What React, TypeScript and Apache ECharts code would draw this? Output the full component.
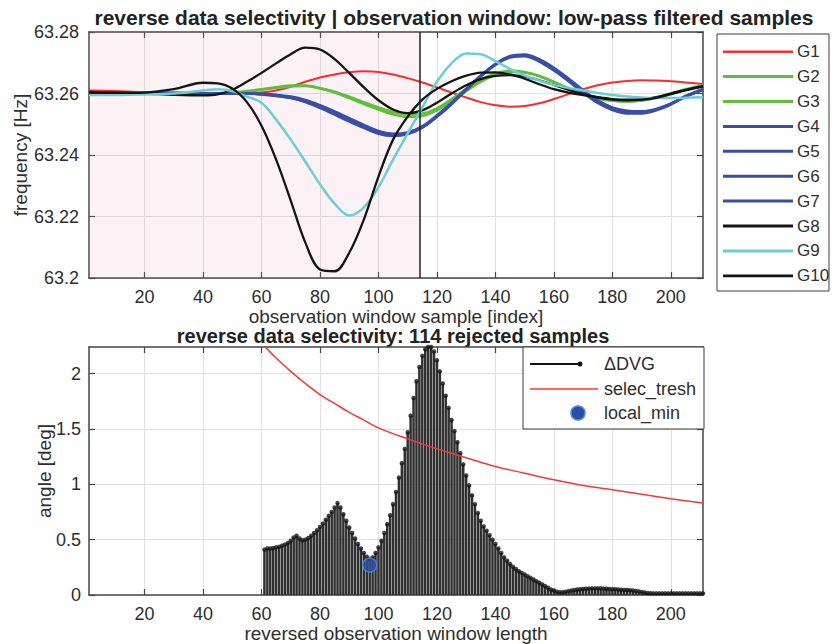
import React, { useEffect, useRef } from "react";
import * as echarts from "echarts";

const FONT = '"Liberation Sans", Arial, Helvetica, sans-serif';
const TXT = "#2e2e2e";
const AXIS = "#454545";
const GRIDC = "#e0e0e0";

// ---------- top panel data ----------
const sampleIdx = [1, 10, 20, 30, 40, 45, 50, 55, 60, 65, 70, 75, 80, 85, 90, 95, 100, 105, 110, 115, 120, 125, 130, 135, 140, 145, 150, 155, 160, 165, 170, 175, 180, 185, 190, 195, 200, 205, 211];

const G1 = [63.261, 63.2608, 63.2605, 63.2604, 63.2602, 63.26, 63.26, 63.26, 63.2603, 63.261, 63.2622, 63.2638, 63.2652, 63.2662, 63.2669, 63.2672, 63.267, 63.2662, 63.265, 63.2636, 63.262, 63.2603, 63.2587, 63.2572, 63.2562, 63.2557, 63.2559, 63.2568, 63.2582, 63.2598, 63.2614, 63.2627, 63.2636, 63.2641, 63.2643, 63.2642, 63.264, 63.2636, 63.2631];
const G2 = [63.26, 63.26, 63.26, 63.26, 63.26, 63.2601, 63.2603, 63.2608, 63.2614, 63.262, 63.2626, 63.2626, 63.2618, 63.2606, 63.259, 63.2572, 63.2555, 63.254, 63.2532, 63.2535, 63.2552, 63.2582, 63.2615, 63.2645, 63.2665, 63.2674, 63.267, 63.2657, 63.2638, 63.2618, 63.26, 63.2586, 63.2577, 63.2574, 63.2577, 63.2585, 63.2598, 63.2612, 63.2625];
const G3 = [63.26, 63.26, 63.26, 63.26, 63.26, 63.26, 63.2602, 63.2606, 63.2612, 63.2618, 63.2623, 63.2624, 63.2616, 63.2603, 63.2585, 63.2566, 63.2548, 63.2532, 63.2524, 63.2527, 63.2545, 63.2575, 63.2608, 63.2638, 63.266, 63.267, 63.2668, 63.2656, 63.2637, 63.2616, 63.2598, 63.2584, 63.2576, 63.2574, 63.2578, 63.2587, 63.26, 63.2614, 63.2627];
const G4 = [63.26, 63.26, 63.26, 63.26, 63.26, 63.26, 63.26, 63.26, 63.2598, 63.2594, 63.2588, 63.2576, 63.2558, 63.2537, 63.2515, 63.2493, 63.2473, 63.2465, 63.247, 63.249, 63.2525, 63.2566, 63.2612, 63.2657, 63.2694, 63.2719, 63.2724, 63.2708, 63.268, 63.2645, 63.2607, 63.2574, 63.2551, 63.254, 63.2539, 63.2548, 63.2566, 63.259, 63.2613];
const G5 = [63.26, 63.26, 63.26, 63.26, 63.26, 63.26, 63.26, 63.26, 63.2597, 63.2592, 63.2585, 63.2572, 63.2553, 63.2531, 63.2509, 63.2488, 63.2469, 63.2462, 63.2468, 63.2489, 63.2524, 63.2565, 63.2611, 63.2656, 63.2693, 63.2717, 63.2721, 63.2704, 63.2675, 63.264, 63.2602, 63.2569, 63.2546, 63.2535, 63.2535, 63.2545, 63.2564, 63.2589, 63.2612];
const G6 = [63.26, 63.26, 63.26, 63.26, 63.26, 63.26, 63.26, 63.26, 63.2599, 63.2596, 63.259, 63.2579, 63.2562, 63.2542, 63.252, 63.2498, 63.2478, 63.2469, 63.2473, 63.2492, 63.2526, 63.2567, 63.2613, 63.2658, 63.2696, 63.2722, 63.2727, 63.2712, 63.2684, 63.2649, 63.2611, 63.2578, 63.2555, 63.2544, 63.2542, 63.255, 63.2567, 63.259, 63.2612];
const G7 = [63.26, 63.26, 63.26, 63.26, 63.26, 63.26, 63.26, 63.26, 63.2598, 63.2593, 63.2586, 63.2574, 63.2556, 63.2534, 63.2512, 63.2491, 63.2472, 63.2466, 63.2472, 63.2493, 63.2529, 63.257, 63.2615, 63.2659, 63.2695, 63.2719, 63.2723, 63.2706, 63.2677, 63.2642, 63.2604, 63.2571, 63.2549, 63.2538, 63.2538, 63.2548, 63.2567, 63.2592, 63.2615];
const G8 = [63.2605, 63.2603, 63.26, 63.2596, 63.2594, 63.2597, 63.2612, 63.2638, 63.2667, 63.2698, 63.2728, 63.2749, 63.2743, 63.2712, 63.2667, 63.262, 63.2578, 63.2548, 63.2536, 63.2545, 63.257, 63.26, 63.2627, 63.2647, 63.2657, 63.266, 63.2655, 63.2643, 63.2628, 63.2612, 63.2598, 63.2587, 63.258, 63.2578, 63.258, 63.2588, 63.26, 63.2612, 63.2624];
const G9 = [63.2595, 63.2595, 63.2597, 63.26, 63.261, 63.2614, 63.2608, 63.259, 63.257, 63.2515, 63.245, 63.2378, 63.2305, 63.2242, 63.2203, 63.223, 63.2295, 63.2385, 63.247, 63.2555, 63.2638, 63.2698, 63.273, 63.2728, 63.2705, 63.268, 63.2658, 63.2642, 63.2628, 63.2618, 63.261, 63.2602, 63.2595, 63.259, 63.2587, 63.2585, 63.2585, 63.2586, 63.2588];
const G10 = [63.2603, 63.2602, 63.2603, 63.2614, 63.2635, 63.2633, 63.2616, 63.2572, 63.2495, 63.2385, 63.2252, 63.2115, 63.2028, 63.2022, 63.2082, 63.219, 63.233, 63.245, 63.2525, 63.258, 63.2615, 63.264, 63.2658, 63.2668, 63.2669, 63.2662, 63.2648, 63.263, 63.2614, 63.2603, 63.2595, 63.2588, 63.2582, 63.258, 63.258, 63.2586, 63.2598, 63.261, 63.2622];

const groupNames = ["G1", "G2", "G3", "G4", "G5", "G6", "G7", "G8", "G9", "G10"];
const groupValues = [G1, G2, G3, G4, G5, G6, G7, G8, G9, G10];

const xTicks = [20, 40, 60, 80, 100, 120, 140, 160, 180, 200];
const freqTicks = [63.2, 63.22, 63.24, 63.26, 63.28];
const rejectedSamples = 114;

// ---------- bottom panel data ----------
const angleTicks = [0, 0.5, 1, 1.5, 2];
const dvgStart = 61;
const dvgValues = [
  0.41, 0.42, 0.42, 0.425, 0.43, 0.435, 0.445, 0.455, 0.47, 0.49,
  0.52, 0.535, 0.51, 0.495, 0.5, 0.515, 0.535, 0.56, 0.585, 0.615,
  0.645, 0.68, 0.715, 0.75, 0.79, 0.83, 0.79, 0.73, 0.67, 0.61,
  0.56, 0.51, 0.46, 0.42, 0.38, 0.345, 0.325, 0.34, 0.38, 0.43,
  0.49, 0.56, 0.64, 0.72, 0.82, 0.93, 1.06, 1.19, 1.32, 1.47,
  1.62, 1.78, 1.93, 2.06, 2.16, 2.22, 2.24, 2.24, 2.2, 2.12,
  2.02, 1.91, 1.8, 1.69, 1.58, 1.48, 1.38, 1.28, 1.18, 1.08,
  0.99, 0.9, 0.82, 0.74, 0.67, 0.62, 0.58, 0.54, 0.5, 0.46,
  0.42, 0.38, 0.34, 0.31, 0.28, 0.255, 0.235, 0.215, 0.2, 0.185,
  0.17, 0.155, 0.14, 0.125, 0.11, 0.095, 0.08, 0.065, 0.05, 0.04,
  0.03, 0.025, 0.025, 0.03, 0.035, 0.04, 0.045, 0.05, 0.052, 0.055,
  0.057, 0.058, 0.06, 0.06, 0.06, 0.06, 0.058, 0.057, 0.055, 0.053,
  0.052, 0.05, 0.048, 0.046, 0.045, 0.043, 0.04, 0.037, 0.033, 0.028,
  0.022, 0.018, 0.016, 0.015, 0.015, 0.015, 0.015, 0.015, 0.015, 0.015,
  0.015, 0.015, 0.015, 0.015, 0.015, 0.015, 0.015, 0.015, 0.015, 0.015, 0.015,
];
const threshX = [61, 65, 70, 75, 80, 85, 90, 95, 100, 110, 120, 130, 140, 150, 160, 170, 180, 190, 200, 211];
const threshY = [2.25, 2.14, 2.02, 1.91, 1.81, 1.73, 1.65, 1.58, 1.51, 1.41, 1.32, 1.24, 1.16, 1.1, 1.04, 0.99, 0.95, 0.91, 0.87, 0.83];
const localMinX = 97;
const localMinY = 0.27;

// ---------- styles ----------
const groupColors = ["#ff2b2b", "#5fbf3c", "#5fbf3c", "#3a4ea8", "#3a4ea8", "#3a4ea8", "#3a4ea8", "#141414", "#6acdd8", "#141414"];
const groupWidths = [2, 2.5, 2.5, 2.5, 2.5, 2.5, 2.5, 2.3, 2.5, 2.3];

const axisLineStyle = { color: AXIS, width: 1.5 };
const tickStyle = { color: AXIS, width: 1.2 };
const labelStyle = { color: TXT, fontSize: 18, fontFamily: FONT };
const nameStyle = { color: TXT, fontSize: 19, fontFamily: FONT };

function xAxisDef(gridIndex: number, pos: "bottom" | "top", name?: string, nameGap?: number) {
  const main = pos === "bottom";
  return {
    type: "value",
    gridIndex,
    position: pos,
    min: 1,
    max: 211,
    axisLine: { show: true, onZero: false, lineStyle: axisLineStyle },
    axisTick: { show: true, inside: true, length: 6, customValues: xTicks, lineStyle: tickStyle },
    axisLabel: { show: main, customValues: xTicks, margin: 10, ...labelStyle },
    splitLine: { show: main, lineStyle: { color: GRIDC, width: 1 } },
    name: main ? name : undefined,
    nameLocation: "middle",
    nameGap,
    nameTextStyle: nameStyle,
  };
}

function yAxisDef(gridIndex: number, pos: "left" | "right", min: number, max: number, ticks: number[], name?: string, nameGap?: number, margin?: number) {
  const main = pos === "left";
  return {
    type: "value",
    gridIndex,
    position: pos,
    min,
    max,
    axisLine: { show: true, onZero: false, lineStyle: axisLineStyle },
    axisTick: { show: true, inside: true, length: 6, customValues: ticks, lineStyle: tickStyle },
    axisLabel: {
      show: main,
      customValues: ticks,
      margin: margin ?? 10,
      formatter: (v: number) => String(Number(v.toFixed(3))),
      ...labelStyle,
    },
    splitLine: { show: main, lineStyle: { color: GRIDC, width: 1 } },
    name: main ? name : undefined,
    nameLocation: "middle",
    nameGap,
    nameMoveOverlap: false,
    nameTextStyle: nameStyle,
  };
}

export default function App() {
  const ref = useRef<HTMLDivElement>(null);

  useEffect(() => {
    if (!ref.current) return;
    const chart = echarts.init(ref.current, undefined, { renderer: "svg" });

    const groupSeries = groupNames.map((name, i) => ({
      name,
      type: "line",
      xAxisIndex: 0,
      yAxisIndex: 0,
      data: sampleIdx.map((x, k) => [x, groupValues[i][k]]),
      smooth: 0.35,
      symbol: "none",
      lineStyle: { color: groupColors[i], width: groupWidths[i] },
      z: 3,
    }));

    const dvgData = dvgValues.map((v, i) => [dvgStart + i, v]);

    const graphics: any[] = [];
    // titles
    graphics.push({
      type: "text",
      x: 454,
      y: 17,
      style: { text: "reverse data selectivity | observation window: low-pass filtered samples", font: `bold 21px ${FONT}`, fill: "#222", align: "center", verticalAlign: "middle" },
    });
    graphics.push({
      type: "text",
      x: 393,
      y: 336,
      style: { text: `reverse data selectivity: ${rejectedSamples} rejected samples`, font: `bold 20px ${FONT}`, fill: "#222", align: "center", verticalAlign: "middle" },
    });
    // top legend
    graphics.push({
      type: "rect",
      shape: { x: 717, y: 34, width: 112, height: 257 },
      style: { fill: "#fff", stroke: "#3a3a3a", lineWidth: 1 },
      z: 10,
    });
    groupNames.forEach((name, i) => {
      const y = 51.7 + i * 24.9;
      graphics.push({
        type: "line",
        shape: { x1: 723, y1: y, x2: 793, y2: y },
        style: { stroke: groupColors[i], lineWidth: groupWidths[i] + 0.5 },
        z: 11,
      });
      graphics.push({
        type: "text",
        x: 797,
        y,
        style: { text: name, font: `17px ${FONT}`, fill: TXT, align: "left", verticalAlign: "middle" },
        z: 11,
      });
    });
    // bottom legend
    graphics.push({
      type: "rect",
      shape: { x: 523, y: 347, width: 181, height: 82 },
      style: { fill: "#fff", stroke: "#3a3a3a", lineWidth: 1 },
      z: 10,
    });
    graphics.push({ type: "line", shape: { x1: 530, y1: 364, x2: 579, y2: 364 }, style: { stroke: "#111", lineWidth: 2 }, z: 11 });
    graphics.push({ type: "circle", shape: { cx: 580, cy: 364, r: 2.5 }, style: { fill: "#111" }, z: 11 });
    graphics.push({ type: "text", x: 604, y: 364, style: { text: "ΔDVG", font: `18px ${FONT}`, fill: TXT, align: "left", verticalAlign: "middle" }, z: 11 });
    graphics.push({ type: "line", shape: { x1: 530, y1: 389, x2: 598, y2: 389 }, style: { stroke: "#ff3535", lineWidth: 1.5 }, z: 11 });
    graphics.push({ type: "text", x: 604, y: 389, style: { text: "selec_tresh", font: `18px ${FONT}`, fill: TXT, align: "left", verticalAlign: "middle" }, z: 11 });
    graphics.push({ type: "circle", shape: { cx: 578, cy: 413, r: 7 }, style: { fill: "#2d4ea6", stroke: "#4a8fd8", lineWidth: 1.5 }, z: 11 });
    graphics.push({ type: "text", x: 604, y: 413, style: { text: "local_min", font: `18px ${FONT}`, fill: TXT, align: "left", verticalAlign: "middle" }, z: 11 });

    const option: any = {
      animation: false,
      backgroundColor: "#ffffff",
      textStyle: { fontFamily: FONT },
      grid: [
        { left: 89, top: 32, width: 614, height: 246, outerBoundsMode: "none" },
        { left: 89, top: 347, width: 614, height: 248, outerBoundsMode: "none" },
      ],
      xAxis: [
        xAxisDef(0, "bottom", "observation window sample [index]", 23),
        xAxisDef(0, "top"),
        xAxisDef(1, "bottom", "reversed observation window length", 22),
        xAxisDef(1, "top"),
      ],
      yAxis: [
        yAxisDef(0, "left", 63.2, 63.28, freqTicks, "frequency [Hz]", 59, 10),
        yAxisDef(0, "right", 63.2, 63.28, freqTicks),
        yAxisDef(1, "left", 0, 2.24, angleTicks, "angle [deg]", 35, 8),
        yAxisDef(1, "right", 0, 2.24, angleTicks),
      ],
      series: [
        {
          type: "line",
          xAxisIndex: 0,
          yAxisIndex: 0,
          data: [[1, 63.26]],
          symbol: "none",
          lineStyle: { opacity: 0 },
          silent: true,
          z: 1,
          markArea: {
            silent: true,
            itemStyle: { color: "rgba(232,150,172,0.12)" },
            data: [[{ xAxis: 1 }, { xAxis: rejectedSamples }]],
          },
          markLine: {
            silent: true,
            symbol: ["none", "none"],
            label: { show: false },
            lineStyle: { color: "#222", width: 1.5, type: "solid" },
            data: [{ xAxis: rejectedSamples }],
          },
        },
        ...groupSeries,
        {
          name: "ΔDVG",
          type: "bar",
          xAxisIndex: 2,
          yAxisIndex: 2,
          data: dvgData,
          barWidth: 2.5,
          itemStyle: { color: "#303030" },
          z: 2,
        },
        {
          name: "ΔDVG tops",
          type: "scatter",
          xAxisIndex: 2,
          yAxisIndex: 2,
          data: dvgData,
          symbol: "circle",
          symbolSize: 4.5,
          itemStyle: { color: "#151515" },
          z: 3,
        },
        {
          name: "selec_tresh",
          type: "line",
          xAxisIndex: 2,
          yAxisIndex: 2,
          data: threshX.map((x, i) => [x, threshY[i]]),
          smooth: 0.4,
          symbol: "none",
          clip: true,
          lineStyle: { color: "#ff3535", width: 1.5 },
          z: 4,
        },
        {
          name: "local_min",
          type: "scatter",
          xAxisIndex: 2,
          yAxisIndex: 2,
          data: [[localMinX, localMinY]],
          symbol: "circle",
          symbolSize: 14,
          itemStyle: { color: "#2d4ea6", borderColor: "#4a8fd8", borderWidth: 1.5 },
          z: 5,
        },
      ],
      graphic: graphics,
    };

    chart.setOption(option);
    return () => chart.dispose();
  }, []);

  return (
    <div
      ref={ref}
      style={{ position: "absolute", left: 0, top: 0, width: 832, height: 644, background: "#fff" }}
    />
  );
}
